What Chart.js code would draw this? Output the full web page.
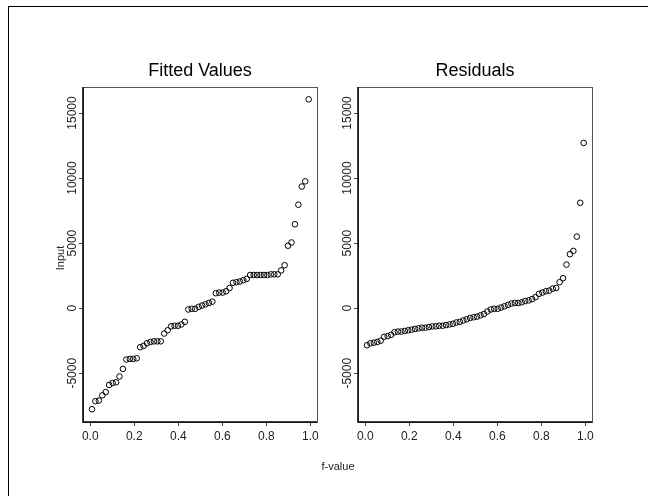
<!DOCTYPE html>
<html>
<head>
<meta charset="utf-8">
<script src="https://cdn.jsdelivr.net/npm/chart.js@4.4.1/dist/chart.umd.min.js"></script>
<style>
  body { margin: 0; background: #fff; width: 648px; height: 496px; overflow: hidden; position: relative; }
  canvas { position: absolute; left: 0; top: 0; }
  #frame { position: absolute; left: 8px; top: 6px; width: 700px; height: 600px; border-top: 1.5px solid #000; border-left: 1.5px solid #000; }
</style>
</head>
<body>
<div id="frame"></div>
<canvas id="fitChart" width="648" height="496"></canvas>
<canvas id="resChart" width="648" height="496"></canvas>
<script>
// f-values (ppoints of 64 observations)
const fValues = [
  0.0078, 0.0234, 0.0391, 0.0547, 0.0703, 0.0859, 0.1016, 0.1172, 0.1328, 0.1484,
  0.1641, 0.1797, 0.1953, 0.2109, 0.2266, 0.2422, 0.2578, 0.2734, 0.2891, 0.3047,
  0.3203, 0.3359, 0.3516, 0.3672, 0.3828, 0.3984, 0.4141, 0.4297, 0.4453, 0.4609,
  0.4766, 0.4922, 0.5078, 0.5234, 0.5391, 0.5547, 0.5703, 0.5859, 0.6016, 0.6172,
  0.6328, 0.6484, 0.6641, 0.6797, 0.6953, 0.7109, 0.7266, 0.7422, 0.7578, 0.7734,
  0.7891, 0.8047, 0.8203, 0.8359, 0.8516, 0.8672, 0.8828, 0.8984, 0.9141, 0.9297,
  0.9453, 0.9609, 0.9766, 0.9922
];

// sorted fitted values (centered)
const fittedValues = [
  -7770, -7150, -7100, -6700, -6450, -5900, -5750, -5700, -5250, -4670,
  -3950, -3900, -3900, -3850, -3000, -2900, -2700, -2600, -2550, -2550,
  -2550, -1950, -1700, -1400, -1350, -1350, -1250, -1050, -100, -50,
  -50, 100, 200, 300, 400, 500, 1150, 1200, 1200, 1300,
  1550, 1950, 2000, 2050, 2150, 2250, 2550, 2550, 2550, 2550,
  2550, 2550, 2600, 2600, 2600, 2900, 3300, 4800, 5050, 6450,
  7950, 9350, 9750, 16050
];

// sorted residuals
const residualValues = [
  -2850, -2700, -2650, -2600, -2500, -2200, -2150, -2050, -1850, -1800,
  -1800, -1750, -1700, -1650, -1600, -1550, -1500, -1500, -1450, -1400,
  -1400, -1350, -1350, -1300, -1250, -1200, -1100, -1050, -950, -850,
  -750, -700, -650, -550, -450, -250, -100, -50, -50, 50,
  150, 250, 350, 400, 400, 450, 550, 600, 700, 850,
  1100, 1200, 1300, 1350, 1500, 1550, 2000, 2300, 3350, 4150,
  4400, 5500, 8100, 12700
];

const xTickValues = [0, 0.2, 0.4, 0.6, 0.8, 1.0];
const yTickValues = [-5000, 0, 5000, 10000, 15000];
const yTickLabels = ['-5000', '0', '5000', '10000', '15000'];

const FONT = 'Liberation Sans, Arial, sans-serif';

// draws the panel box, rotated y labels and the title
const panelDecor = {
    id: 'panelDecor',
    afterDraw(chart, args, opts) {
        const ctx = chart.ctx;
        const a = chart.chartArea;
        const yScale = chart.scales.y;
        ctx.save();
        // box (top & right lighter)
        ctx.strokeStyle = '#555';
        ctx.lineWidth = 1;
        ctx.strokeRect(a.left + 0.5, a.top + 0.5, a.right - a.left, a.bottom - a.top);
        ctx.strokeStyle = '#000';
        ctx.lineWidth = 1.5;
        ctx.beginPath();
        ctx.moveTo(a.left, a.top);
        ctx.lineTo(a.left, a.bottom);
        ctx.lineTo(a.right, a.bottom);
        ctx.stroke();

        // y tick labels, rotated like R's default
        ctx.fillStyle = '#222';
        ctx.font = '12px ' + FONT;
        ctx.textAlign = 'center';
        ctx.textBaseline = 'middle';
        yTickValues.forEach((v, i) => {
            const py = yScale.getPixelForValue(v);
            ctx.save();
            ctx.translate(a.left - 10, py);
            ctx.rotate(-Math.PI / 2);
            ctx.fillText(yTickLabels[i], 0, 0);
            ctx.restore();
        });

        // panel title
        ctx.fillStyle = '#000';
        ctx.font = '18px ' + FONT;
        ctx.fillText(opts.title, (a.left + a.right) / 2, 71);

        // shared axis labels (only once)
        if (opts.axisLabels) {
            ctx.font = '11px ' + FONT;
            ctx.fillStyle = '#222';
            ctx.fillText('f-value', 338, 467);
            ctx.save();
            ctx.translate(61, 258);
            ctx.rotate(-Math.PI / 2);
            ctx.fillText('Input', 0, 0);
            ctx.restore();
        }
        ctx.restore();
    }
};

function makePanel(canvasId, values, title, padLeft, padRight, axisLabels) {
    const points = fValues.map((f, i) => ({ x: f, y: values[i] }));
    return new Chart(document.getElementById(canvasId).getContext('2d'), {
        type: 'scatter',
        data: {
            datasets: [{
                data: points,
                pointStyle: 'circle',
                pointRadius: 2.8,
                pointBorderWidth: 1,
                pointBorderColor: '#000',
                pointBackgroundColor: 'rgba(0,0,0,0)'
            }]
        },
        options: {
            responsive: false,
            animation: false,
            events: [],
            layout: { padding: { left: padLeft, right: padRight, top: 87, bottom: 0 } },
            scales: {
                x: {
                    type: 'linear',
                    min: -0.033,
                    max: 1.03,
                    afterBuildTicks: s => { s.ticks = xTickValues.map(v => ({ value: v })); },
                    afterFit: s => { s.height = 74; },
                    grid: { drawOnChartArea: false, drawTicks: true, tickLength: 4, color: '#444' },
                    border: { display: false },
                    ticks: {
                        color: '#222',
                        padding: 3,
                        maxRotation: 0,
                        autoSkip: false,
                        font: { family: FONT, size: 12 },
                        callback: v => Number(v).toFixed(1)
                    }
                },
                y: {
                    type: 'linear',
                    min: -8750,
                    max: 17000,
                    afterBuildTicks: s => { s.ticks = yTickValues.map(v => ({ value: v })); },
                    afterFit: s => { s.width = 0; },
                    grid: { drawOnChartArea: false, drawTicks: true, tickLength: 4, color: '#444' },
                    border: { display: false },
                    ticks: { display: false }
                }
            },
            plugins: {
                legend: { display: false },
                tooltip: { enabled: false },
                panelDecor: { title: title, axisLabels: axisLabels }
            }
        },
        plugins: [panelDecor]
    });
}

makePanel('fitChart', fittedValues, 'Fitted Values', 83, 648 - 317, true);
makePanel('resChart', residualValues, 'Residuals', 358, 648 - 592, false);
</script>
</body>
</html>
